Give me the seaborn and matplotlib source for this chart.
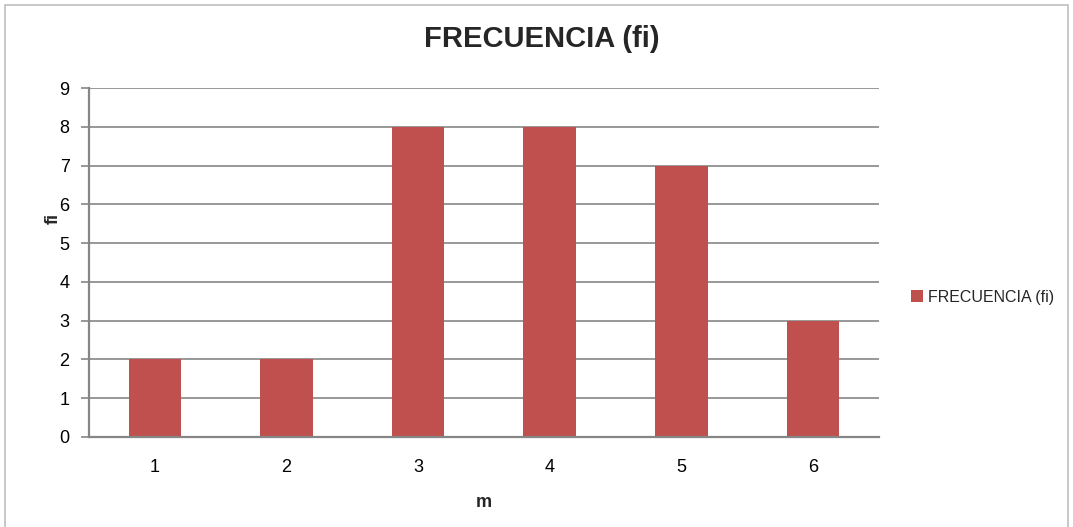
import matplotlib
matplotlib.use("Agg")
import matplotlib.pyplot as plt
from matplotlib.patches import Rectangle
import seaborn as sns
import pandas as pd

# Frequency table
m_values = ["1", "2", "3", "4", "5", "6"]
fi_values = [2, 2, 8, 8, 7, 3]
series_name = "FRECUENCIA (fi)"

sns.set_theme(style="white")
plt.rcParams["font.family"] = ["Liberation Sans", "DejaVu Sans"]

df = pd.DataFrame({"m": m_values, "fi": fi_values, "serie": series_name})

bar_color = "#C0504D"
grid_color = "#868686"

fig = plt.figure(figsize=(10.73, 5.27), dpi=100)
ax = fig.add_axes([0.083, 0.171, 0.736, 0.662])

sns.barplot(data=df, x="m", y="fi", hue="serie", palette=[bar_color],
            width=0.40, ax=ax, saturation=1, edgecolor="none", legend=True)

ax.set_ylim(0, 9)
ax.set_yticks(range(0, 10))
ax.set_xlim(-0.5, 5.5)
ax.yaxis.grid(True, color=grid_color, linewidth=1.2)
ax.set_axisbelow(True)
for side in ["top", "right"]:
    ax.spines[side].set_visible(False)
for side in ["left", "bottom"]:
    ax.spines[side].set_color(grid_color)
    ax.spines[side].set_linewidth(1.6)
ax.tick_params(axis="y", which="major", left=True, length=6, width=1.2,
               color=grid_color, labelsize=13, pad=8, labelcolor="black")
ax.tick_params(axis="x", bottom=False, labelsize=13, pad=10, labelcolor="black")

ax.set_xlabel("m", fontsize=13, fontweight="bold")
ax.xaxis.set_label_coords(0.5, -0.165)
ax.set_ylabel("fi", fontsize=13, fontweight="bold")
ax.yaxis.set_label_coords(-0.035, 0.625)
fig.suptitle(series_name, x=0.505, y=0.952, fontsize=21, fontweight="bold")

leg = ax.legend(loc="center left", bbox_to_anchor=(1.022, 0.40), frameon=False,
                fontsize=11.5, handlelength=0.75, handleheight=0.75, handletextpad=0.35)

# Chart-area border
fig.patches.append(Rectangle((0.005, -0.01), 0.99, 1.0, transform=fig.transFigure,
                             fill=False, edgecolor="#BFBFBF", linewidth=1.2))

fig.savefig("out.png", dpi=100)
